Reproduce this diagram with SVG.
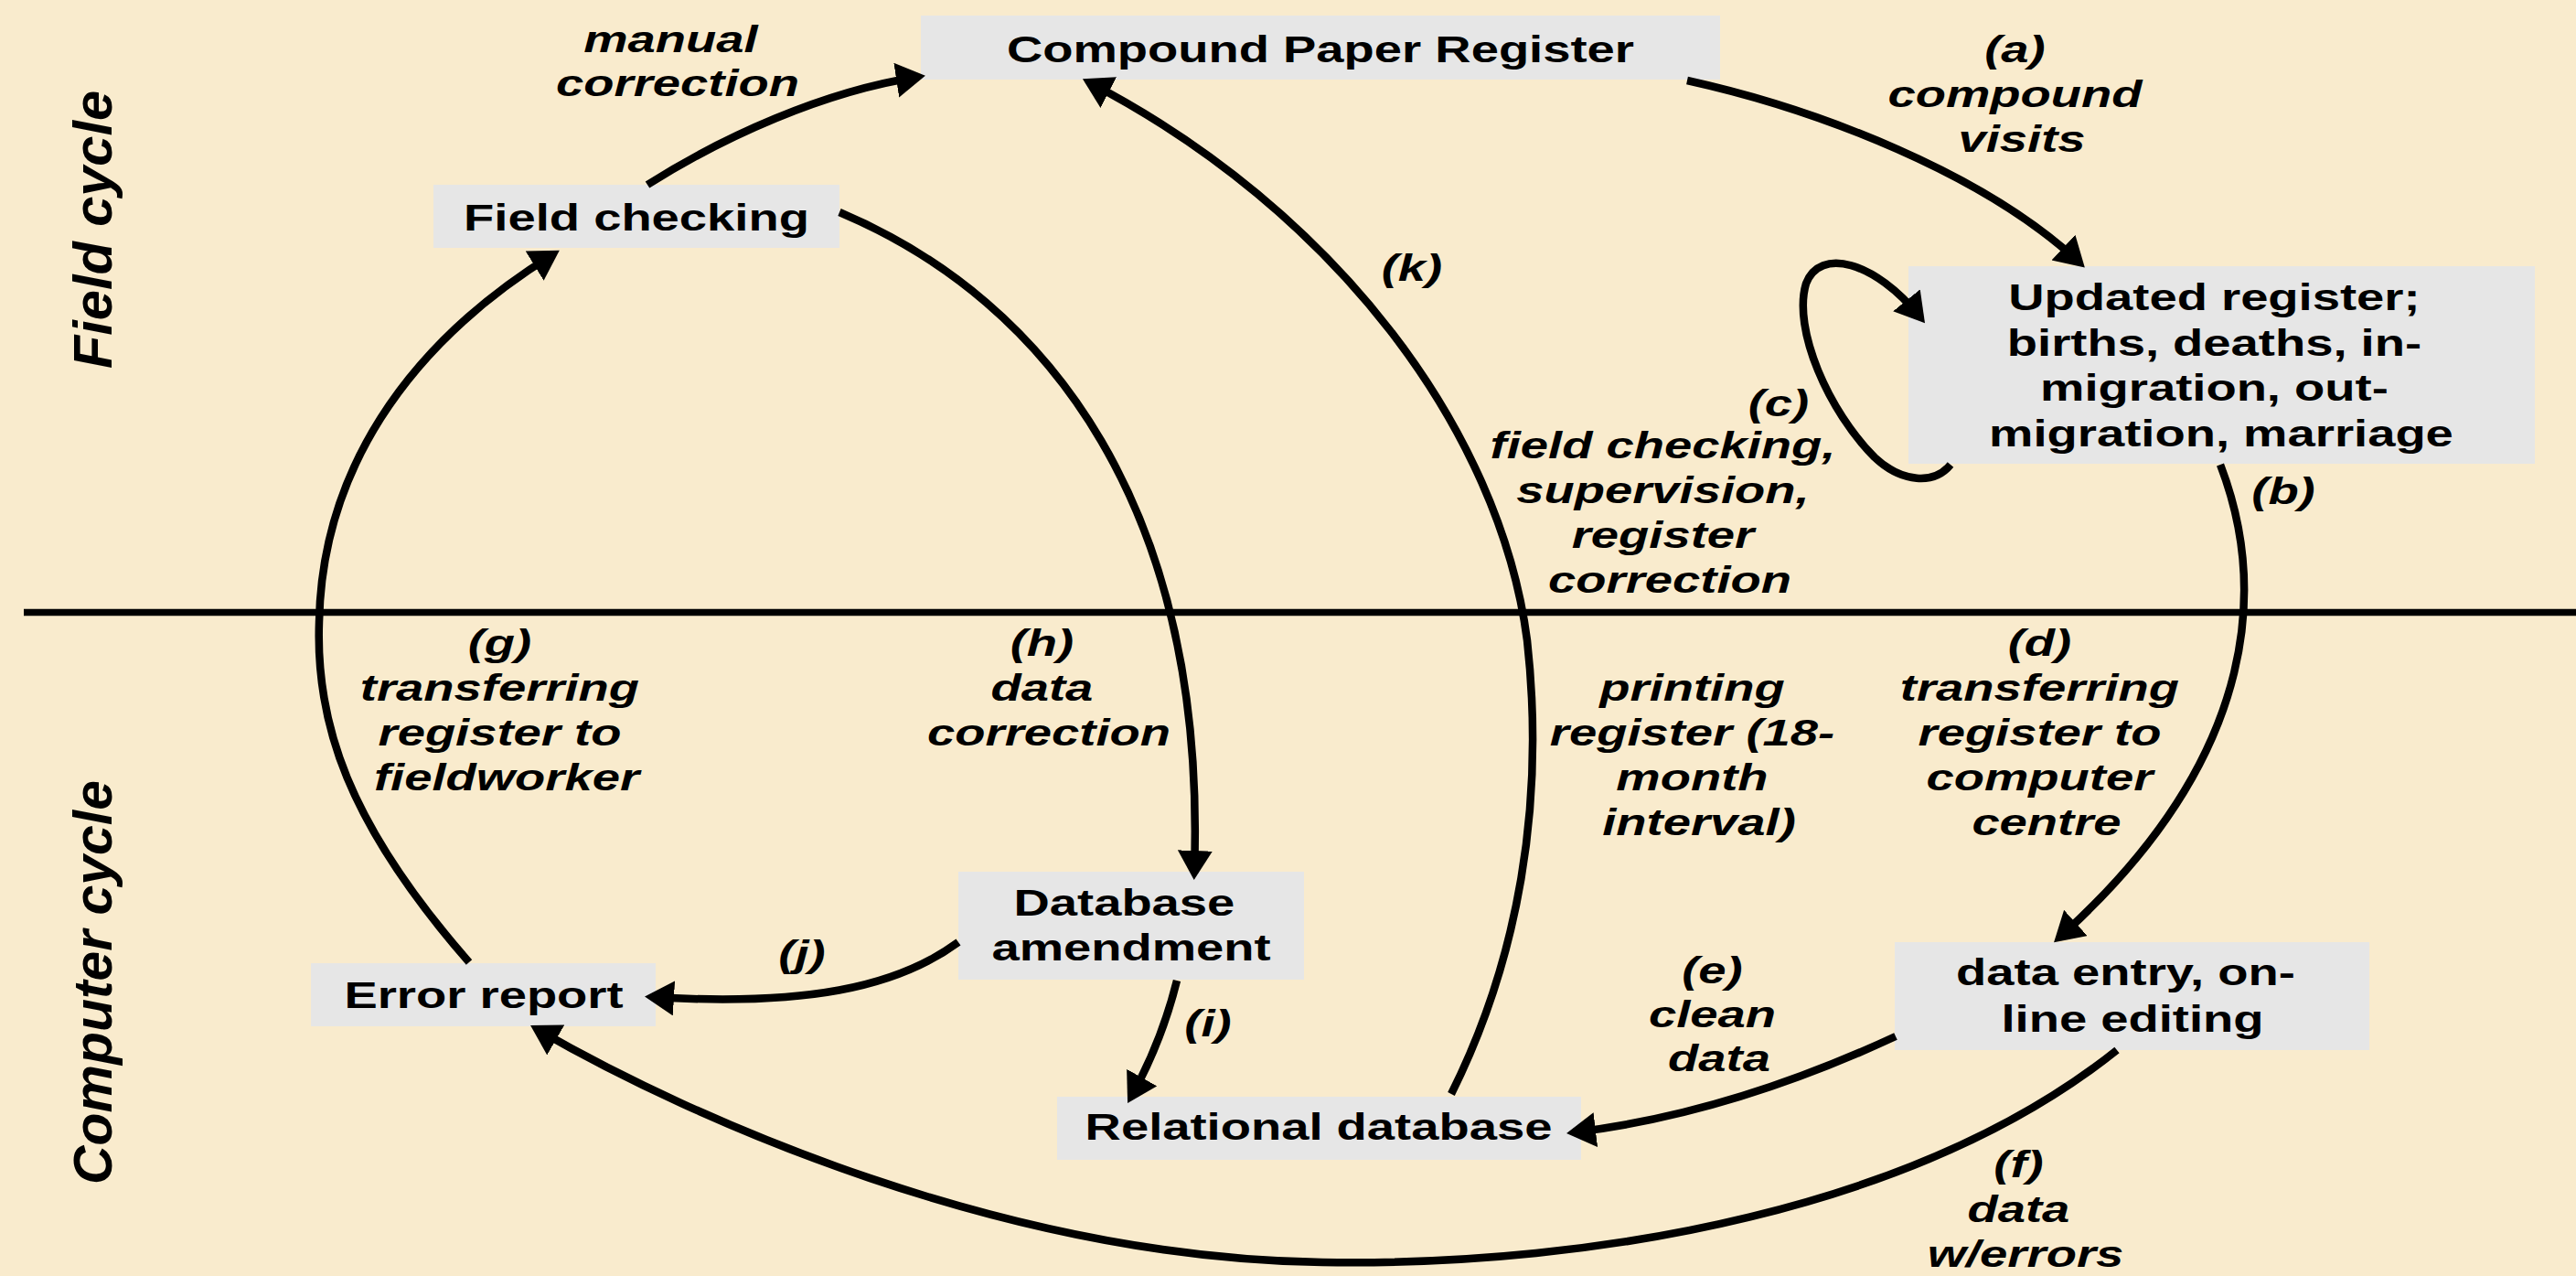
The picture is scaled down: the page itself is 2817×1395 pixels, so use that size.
<svg xmlns="http://www.w3.org/2000/svg" width="2817" height="1395" viewBox="0 0 2817 1395">
  <defs>
    <style>
      .bg { fill: #f9ebcd; }
      .box { fill: #e6e6e6; }
      .nt { font-family: "Liberation Sans", Arial, sans-serif; font-weight: bold; font-size: 40px; text-anchor: middle; fill: #000; }
      .lt { font-family: "Liberation Sans", Arial, sans-serif; font-weight: bold; font-style: italic; font-size: 40px; text-anchor: middle; fill: #000; }
      .side { font-family: "Liberation Sans", Arial, sans-serif; font-weight: bold; font-style: italic; font-size: 59px; fill: #000; }
      .divider { stroke: #000; stroke-width: 7.5; }
      .conn { fill: none; stroke: #000; stroke-width: 8.5; marker-end: url(#ah); }
    </style>
    <marker id="ah" markerUnits="userSpaceOnUse" markerWidth="40" markerHeight="40" refX="24" refY="19" orient="auto">
      <path d="M0,0 L32,19 L0,38 z" fill="#000"/>
    </marker>
  </defs>

  <rect class="bg" x="0" y="0" width="2817" height="1395"/>

  <!-- cycle divider and side captions -->
  <line class="divider" x1="26" y1="669.5" x2="2817" y2="669.5"/>
  <text class="side" transform="translate(122 403) rotate(-90)" textLength="304" lengthAdjust="spacingAndGlyphs">Field cycle</text>
  <text class="side" transform="translate(122 1295) rotate(-90)" textLength="442" lengthAdjust="spacingAndGlyphs">Computer cycle</text>

  <!-- nodes -->
  <g id="compound-paper-register">
    <rect class="box" x="1007" y="17" width="874" height="70"/>
    <text class="nt" transform="translate(1444 0) scale(1.36 1)"><tspan x="0" y="68">Compound Paper Register</tspan></text>
  </g>
  <g id="field-checking">
    <rect class="box" x="474" y="202" width="444" height="69"/>
    <text class="nt" transform="translate(696 0) scale(1.36 1)"><tspan x="0" y="252">Field checking</tspan></text>
  </g>
  <g id="updated-register">
    <rect class="box" x="2087" y="291" width="685" height="216"/>
    <text class="nt" transform="translate(2429 0) scale(1.36 1)">
      <tspan x="0" y="339">Updated register;</tspan>
      <tspan x="0" y="389">births, deaths, in-</tspan>
      <tspan x="0" y="438">migration, out-</tspan>
      <tspan x="0" y="488">migration, marriage</tspan>
    </text>
  </g>
  <g id="data-entry">
    <rect class="box" x="2072" y="1030" width="519" height="118"/>
    <text class="nt" transform="translate(2332 0) scale(1.36 1)">
      <tspan x="0" y="1077">data entry, on-</tspan>
      <tspan x="0" y="1128">line editing</tspan>
    </text>
  </g>
  <g id="database-amendment">
    <rect class="box" x="1048" y="953" width="378" height="118"/>
    <text class="nt" transform="translate(1237 0) scale(1.36 1)">
      <tspan x="0" y="1001">Database</tspan>
      <tspan x="0" y="1050">amendment</tspan>
    </text>
  </g>
  <g id="relational-database">
    <rect class="box" x="1156" y="1199" width="573" height="69"/>
    <text class="nt" transform="translate(1442 0) scale(1.36 1)"><tspan x="0" y="1246">Relational database</tspan></text>
  </g>
  <g id="error-report">
    <rect class="box" x="340" y="1053" width="377" height="69"/>
    <text class="nt" transform="translate(529 0) scale(1.36 1)"><tspan x="0" y="1102">Error report</tspan></text>
  </g>

  <!-- connectors -->
  <g id="connectors">
    <path id="manual" class="conn" d="M708,202 C790,150 900,100 1004,84"/>
    <path id="a" class="conn" d="M1845,88 C1990,120 2170,190 2274,287"/>
    <path id="c" class="conn" d="M2133,508 C2115,530 2080,528 2050,500 C2000,450 1960,360 1975,310 C1990,270 2050,285 2100,347"/>
    <path id="b-d" class="conn" d="M2428,508 C2475,630 2480,820 2252,1025"/>
    <path id="e" class="conn" d="M2073,1133 C1950,1190 1830,1225 1721,1238"/>
    <path id="f" class="conn" d="M2315,1148 C2100,1320 1750,1385 1446,1380 C1100,1375 760,1225 587,1125"/>
    <path id="g" class="conn" d="M513,1052 C380,900 345,790 349,680 C352,520 440,380 605,278"/>
    <path id="h" class="conn" d="M918,232 C1150,330 1320,560 1306,954"/>
    <path id="i" class="conn" d="M1287,1072 Q1270,1140 1237,1199"/>
    <path id="j" class="conn" d="M1048,1030 C980,1080 880,1100 713,1090"/>
    <path id="k" class="conn" d="M1587,1196 C1660,1050 1690,880 1670,700 C1640,470 1460,230 1191,90"/>
  </g>

  <!-- connector labels -->
  <g id="labels">
    <text class="lt" transform="translate(741 0) scale(1.36 1)">
      <tspan x="0" y="57">manual</tspan>
      <tspan x="0" y="105">correction</tspan>
    </text>
    <text class="lt" transform="translate(2211 0) scale(1.36 1)">
      <tspan x="0" y="68">(a)</tspan>
      <tspan x="0" y="117">compound</tspan>
      <tspan x="0" y="166">visits</tspan>
    </text>
    <text class="lt" transform="translate(1544 0) scale(1.36 1)"><tspan x="0" y="307">(k)</tspan></text>
    <text class="lt" transform="translate(1945 0) scale(1.36 1)"><tspan x="0" y="455">(c)</tspan></text>
    <text class="lt" transform="translate(1826 0) scale(1.36 1)">
      <tspan x="0" y="501">field checking,</tspan>
      <tspan x="0" y="550">supervision,</tspan>
      <tspan x="0" y="599">register</tspan>
      <tspan x="0" y="648">correction</tspan>
    </text>
    <text class="lt" transform="translate(2497 0) scale(1.36 1)"><tspan x="0" y="551">(b)</tspan></text>
    <text class="lt" transform="translate(2238 0) scale(1.36 1)">
      <tspan x="0" y="717">(d)</tspan>
      <tspan x="0" y="766">transferring</tspan>
      <tspan x="0" y="815">register to</tspan>
      <tspan x="0" y="864">computer</tspan>
      <tspan x="0" y="913">centre</tspan>
    </text>
    <text class="lt" transform="translate(1147 0) scale(1.36 1)">
      <tspan x="0" y="717">(h)</tspan>
      <tspan x="0" y="766">data</tspan>
      <tspan x="0" y="815">correction</tspan>
    </text>
    <text class="lt" transform="translate(554 0) scale(1.36 1)">
      <tspan x="0" y="717">(g)</tspan>
      <tspan x="0" y="766">transferring</tspan>
      <tspan x="0" y="815">register to</tspan>
      <tspan x="0" y="864">fieldworker</tspan>
    </text>
    <text class="lt" transform="translate(1858 0) scale(1.36 1)">
      <tspan x="0" y="766">printing</tspan>
      <tspan x="0" y="815">register (18-</tspan>
      <tspan x="0" y="864">month</tspan>
      <tspan x="0" y="913">interval)</tspan>
    </text>
    <text class="lt" transform="translate(1880 0) scale(1.36 1)">
      <tspan x="0" y="1075">(e)</tspan>
      <tspan x="0" y="1123">clean</tspan>
      <tspan x="0" y="1171">data</tspan>
    </text>
    <text class="lt" transform="translate(2215 0) scale(1.36 1)">
      <tspan x="0" y="1287">(f)</tspan>
      <tspan x="0" y="1336">data</tspan>
      <tspan x="0" y="1385">w/errors</tspan>
    </text>
    <text class="lt" transform="translate(877 0) scale(1.36 1)"><tspan x="0" y="1057">(j)</tspan></text>
    <text class="lt" transform="translate(1321 0) scale(1.36 1)"><tspan x="0" y="1133">(i)</tspan></text>
  </g>
</svg>
